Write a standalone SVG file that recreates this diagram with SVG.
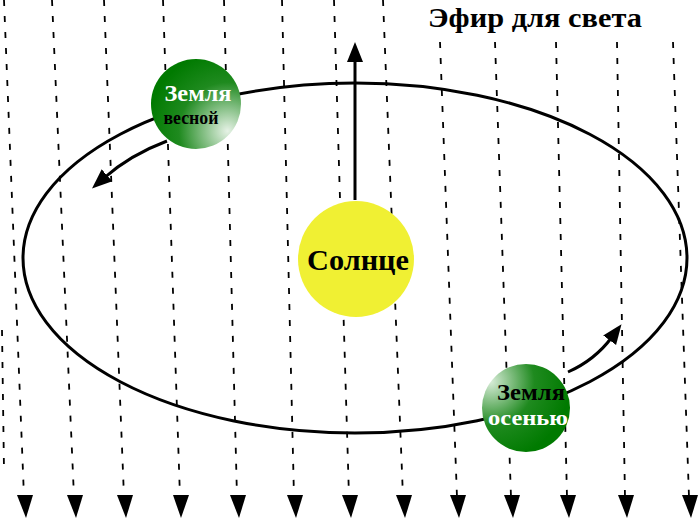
<svg xmlns="http://www.w3.org/2000/svg" width="700" height="525" viewBox="0 0 700 525">
<style>
.ray{stroke:#000;stroke-width:1.8;stroke-dasharray:6 10;fill:none}
.t{font-family:"Liberation Serif",serif;font-weight:bold;text-anchor:middle}
</style>
<defs>
<marker id="ar" markerUnits="userSpaceOnUse" viewBox="0 0 20 20" refX="4" refY="10" markerWidth="20" markerHeight="20" orient="auto"><path d="M0,2 L20,10 L0,18 Z" fill="#000"/></marker>
<radialGradient id="gs" cx="0.85" cy="0.8" r="0.9"><stop offset="0" stop-color="#e6f2e6"/><stop offset="0.6" stop-color="#1f8a1f"/><stop offset="1" stop-color="#007a00"/></radialGradient>
<radialGradient id="ga" cx="0.1" cy="0.2" r="0.9"><stop offset="0" stop-color="#d8ecd8"/><stop offset="0.55" stop-color="#1f8a1f"/><stop offset="1" stop-color="#007a00"/></radialGradient>
</defs>
<rect width="700" height="525" fill="#fff"/>
<g id="rays">
<line class="ray" x1="4" y1="0" x2="24" y2="497"/>
<line class="ray" x1="52" y1="0" x2="74" y2="497"/>
<line class="ray" x1="104" y1="0" x2="124" y2="497"/>
<line class="ray" x1="163" y1="0" x2="180" y2="497"/>
<line class="ray" x1="224" y1="0" x2="237" y2="497"/>
<line class="ray" x1="282" y1="0" x2="294" y2="497"/>
<line class="ray" x1="334" y1="0" x2="349" y2="497"/>
<line class="ray" x1="383" y1="0" x2="403" y2="497"/>
<line class="ray" x1="440" y1="42" x2="457" y2="497"/>
<line class="ray" x1="495" y1="42" x2="511" y2="497"/>
<line class="ray" x1="556" y1="42" x2="567" y2="497"/>
<line class="ray" x1="617" y1="42" x2="625" y2="497"/>
<line class="ray" x1="673" y1="42" x2="689" y2="497"/>
<line class="ray" x1="2" y1="330" x2="4" y2="470"/>
</g>
<g id="heads" fill="#000">
<path d="M17,495 L33,495 L26,518 Z"/>
<path d="M67,495 L83,495 L76,518 Z"/>
<path d="M117,495 L133,495 L126,518 Z"/>
<path d="M173,495 L189,495 L181,518 Z"/>
<path d="M230,495 L246,495 L239,518 Z"/>
<path d="M287,495 L303,495 L296,518 Z"/>
<path d="M342,495 L358,495 L351,518 Z"/>
<path d="M396,495 L412,495 L405,518 Z"/>
<path d="M450,495 L466,495 L459,518 Z"/>
<path d="M504,495 L520,495 L513,518 Z"/>
<path d="M560,495 L576,495 L569,518 Z"/>
<path d="M618,495 L634,495 L627,518 Z"/>
<path d="M682,495 L698,495 L691,518 Z"/>
</g>
<g id="orbit"><ellipse cx="355" cy="258" rx="332" ry="175" fill="none" stroke="#000" stroke-width="3"/></g>
<g id="connectors" fill="none" stroke="#000" stroke-width="3">
<line x1="355" y1="200" x2="355" y2="58" marker-end="url(#ar)"/>
<path d="M167,141 Q130,155 104,178" marker-end="url(#ar)"/>
<path d="M568,372 Q595,360 612,337" marker-end="url(#ar)"/>
</g>
<g id="sun"><circle cx="356" cy="259" r="58" fill="#f0f033"/><text class="t" x="358" y="270" font-size="30" textLength="102" lengthAdjust="spacingAndGlyphs">Солнце</text></g>
<g id="spring"><circle cx="196" cy="104" r="45" fill="url(#gs)"/>
<text class="t" x="198" y="101" font-size="23" fill="#fff" textLength="67" lengthAdjust="spacingAndGlyphs">Земля</text>
<text class="t" x="191" y="124" font-size="18" fill="#000" textLength="55" lengthAdjust="spacingAndGlyphs">весной</text></g>
<g id="autumn"><circle cx="526" cy="408" r="44" fill="url(#ga)"/>
<text class="t" x="531" y="400" font-size="23" fill="#000" textLength="68" lengthAdjust="spacingAndGlyphs">Земля</text>
<text class="t" x="528" y="425" font-size="21" fill="#fff" textLength="80" lengthAdjust="spacingAndGlyphs">осенью</text></g>
<g id="title"><text class="t" x="535" y="27" font-size="28" textLength="214" lengthAdjust="spacingAndGlyphs">Эфир для света</text></g>
</svg>
